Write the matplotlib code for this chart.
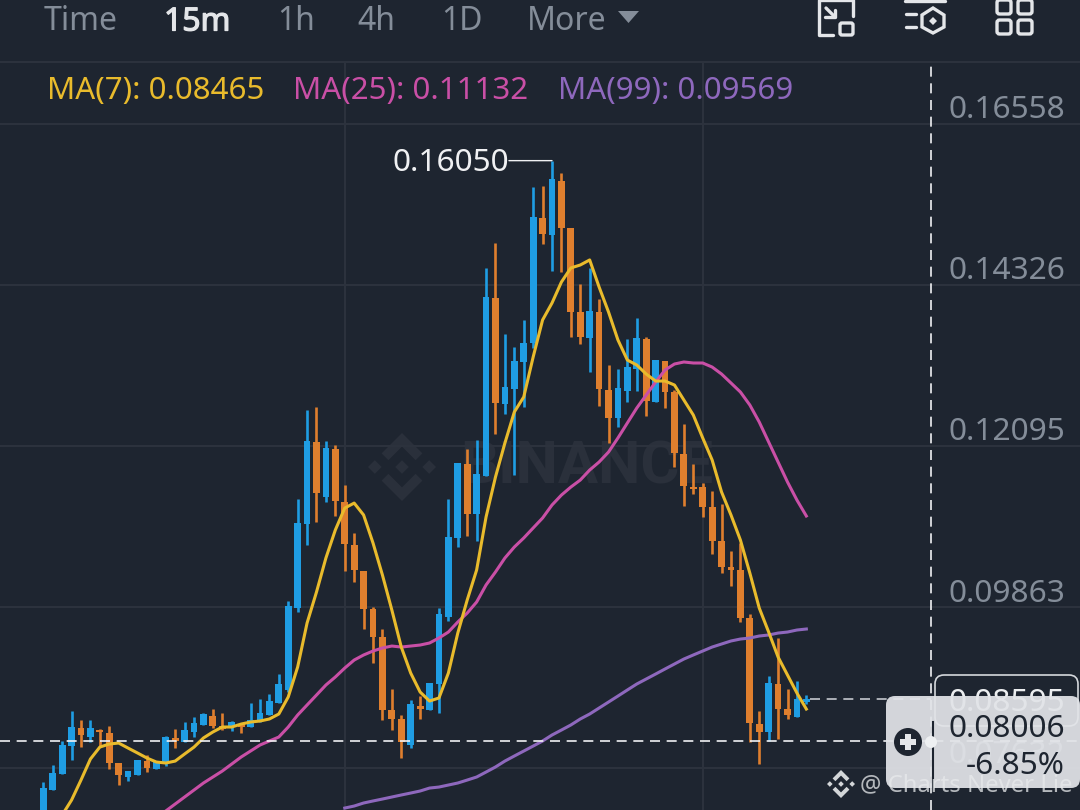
import numpy as np
import matplotlib
matplotlib.use('Agg')
import matplotlib.pyplot as plt
import matplotlib.patheffects as pe
from matplotlib.patches import FancyBboxPatch, Polygon, Circle, Rectangle

plt.rcParams['font.family'] = ['Noto Sans', 'DejaVu Sans']

# candle values, in 1e-5 of the price
opens = [6844, 7329, 7550, 7938, 8188, 8063, 8160, 8119, 7703, 7509,
         7536, 7730, 7620, 7717, 8050, 7994, 8133, 8230, 8354, 8216,
         8202, 8243, 8202, 8271, 8368, 8534, 8715, 9851, 11015, 12151,
         11389, 12054, 11320, 10724, 10364, 9837, 9449, 8437, 8313, 7952,
         8493, 8437, 8798, 9726, 10821, 11846, 11154, 11680, 14147, 12678,
         12885, 13260, 13523, 15256, 15020, 15768, 15117, 13953, 13592, 13953,
         12872, 12484, 12858, 13163, 13578, 12705, 13273, 12844, 11985, 11527,
         11527, 11250, 10779, 10419, 10378, 9713, 8243, 8133, 8798, 8451,
         8340, 8548]
highs = [7439, 7675, 8008, 8423, 8299, 8299, 8174, 8216, 7703, 7592,
         7744, 7814, 7717, 8077, 8174, 8271, 8340, 8396, 8451, 8396,
         8285, 8243, 8534, 8590, 8659, 8936, 9948, 11361, 12594, 12636,
         12165, 12110, 11555, 10890, 10364, 9865, 9560, 8728, 8368, 8576,
         8631, 8812, 9851, 11361, 11860, 12054, 12179, 14563, 14909, 13648,
         13467, 13842, 15685, 15699, 16050, 15879, 15117, 14341, 14563, 14133,
         13218, 13163, 13578, 13870, 13606, 13287, 13273, 12872, 12400, 11846,
         11583, 11472, 11292, 10640, 10752, 9768, 8423, 8909, 9435, 8728,
         8839, 8645]
lows = [6800, 7329, 7550, 7744, 7924, 7994, 7924, 7620, 7398, 7453,
        7536, 7578, 7620, 7661, 7910, 7994, 8063, 8230, 8188, 8160,
        8146, 8119, 8202, 8271, 8368, 8534, 8687, 9796, 10723, 11042,
        11320, 11126, 10364, 10211, 9560, 9089, 8299, 8160, 7772, 7910,
        8313, 8437, 8396, 9671, 10696, 10849, 10779, 11680, 12262, 12539,
        11694, 12636, 13454, 14895, 14521, 14507, 13606, 13509, 13121, 12650,
        12137, 12359, 12705, 12858, 12511, 12705, 12622, 11805, 11264, 11430,
        11112, 10599, 10336, 10156, 9657, 7994, 7689, 8008, 8036, 8313,
        8340, 8521]
closes = [7356, 7564, 7952, 8202, 8091, 8188, 8133, 7703, 7536, 7592,
          7744, 7633, 7717, 8063, 8008, 8160, 8257, 8382, 8216, 8174,
          8271, 8202, 8299, 8396, 8562, 8798, 9879, 11028, 12165, 11444,
          12068, 11333, 10737, 10378, 9837, 9449, 8437, 8313, 7994, 8521,
          8451, 8812, 9768, 10835, 11860, 11154, 11708, 14161, 12691, 12913,
          13273, 13523, 15269, 15034, 15796, 15117, 13953, 13606, 13967, 12885,
          12484, 12899, 13190, 13592, 12719, 13287, 12844, 11999, 11541, 11500,
          11250, 10779, 10419, 10378, 9713, 8257, 8133, 8812, 8451, 8368,
          8590, 8595]

# moving averages, they start later than the candles
ma7 = [6982, 7190, 7467, 7758, 7924, 7966, 7980, 7910, 7842, 7772,
       7717, 7703, 7730, 7828, 7924, 8050, 8133, 8202, 8202, 8243,
       8271, 8285, 8313, 8382, 8618, 9033, 9643, 10072, 10544, 10932,
       11236, 11305, 11140, 10752, 10308, 9823, 9310, 8950, 8687, 8562,
       8604, 8950, 9504, 9962, 10378, 11112, 11666, 12137, 12567, 12775,
       13329, 13842, 14077, 14368, 14563, 14604, 14674, 14299, 13953, 13565,
       13287, 13218, 13093, 12996, 12996, 12941, 12733, 12525, 12207, 11902,
       11458, 11140, 10793, 10336, 9851, 9518, 9172, 8922, 8673, 8451]
ma25 = [7038, 7135, 7232, 7329, 7426, 7509, 7592, 7689, 7786, 7869,
        7952, 8008, 8063, 8202, 8368, 8507, 8645, 8784, 8895, 9019,
        9130, 9200, 9255, 9297, 9324, 9310, 9324, 9338, 9366, 9435,
        9518, 9657, 9781, 9934, 10170, 10350, 10544, 10696, 10821, 10960,
        11098, 11278, 11416, 11527, 11624, 11763, 11874, 12012, 12207, 12415,
        12622, 12802, 12982, 13149, 13232, 13260, 13246, 13246, 13190, 13093,
        12969, 12844, 12664, 12428, 12151, 11874, 11597, 11347, 11126]
ma99 = [7079, 7107, 7149, 7177, 7204, 7232, 7260, 7287, 7315, 7356,
        7370, 7398, 7426, 7467, 7509, 7578, 7648, 7730, 7800, 7869,
        7938, 8008, 8091, 8160, 8230, 8313, 8382, 8465, 8548, 8631,
        8715, 8798, 8867, 8936, 9006, 9075, 9144, 9200, 9255, 9310,
        9352, 9394, 9421, 9435, 9463, 9477, 9504, 9518, 9546, 9560]

price_ticks = [0.16558, 0.14326, 0.12095, 0.09863, 0.07632]
tab_names = ['Time', '15m', '1h', '4h', '1D', 'More']
ma_labels = ['MA(7): 0.08465', 'MA(25): 0.11132', 'MA(99): 0.09569']
peak_price = 0.16050
last_price = 0.08595
cross_price = 0.08006

BG = '#1e2530'
GRID = '#2c323d'
UP = '#1f9de3'
DOWN = '#df7f2e'
YEL = '#e9bb2c'
PINK = '#c94fa6'
PURP = '#8e68bd'
LIGHT = '#e4e6e9'
GRAY = '#848d99'
FS = 22.8


def logo(ax, cx, cy, s, color, tr, alpha=1.0, zorder=5):
    # five piece diamond, s is half the width
    d = s * 0.2
    for dx, dy in [(0, 0), (-s + d, 0), (s - d, 0)]:
        ax.add_patch(Polygon([(cx + dx - d, cy + dy), (cx + dx, cy + dy - d),
                              (cx + dx + d, cy + dy), (cx + dx, cy + dy + d)],
                             color=color, alpha=alpha, lw=0, zorder=zorder, transform=tr))
    for sign in (-1, 1):
        ax.add_patch(Polygon([(cx, cy + sign * s), (cx - 0.6 * s, cy + sign * 0.4 * s),
                              (cx - 0.4 * s, cy + sign * 0.2 * s), (cx, cy + sign * 0.6 * s),
                              (cx + 0.4 * s, cy + sign * 0.2 * s), (cx + 0.6 * s, cy + sign * 0.4 * s)],
                             color=color, alpha=alpha, lw=0, zorder=zorder, transform=tr))


fig = plt.figure(figsize=(10.8, 8.1), dpi=100, facecolor=BG)
ax = fig.add_axes([0, 0, 1, 1], facecolor=BG)
ax.set_xlim(-4.597, 110.05)
ax.set_ylim(0.07052, 0.18276)
for sp in ax.spines.values():
    sp.set_visible(False)
ax.tick_params(length=0, labelbottom=False, labelleft=False)
ax.set_xticks([32, 70])
ax.set_yticks(price_ticks)
ax.grid(True, color=GRID, lw=1.5, zorder=0)
ax.set_axisbelow(True)

# chrome layer, in pixels
ui = fig.add_axes([0, 0, 1, 1])
ui.set_xlim(0, 1080)
ui.set_ylim(810, 0)
ui.axis('off')

ax.text(587, 467, 'BINANCE', transform=ui.transData, color='#2a303b', fontsize=43, family='Roboto',
        fontweight='bold', ha='center', va='center', zorder=0.5)
logo(ax, 402, 467, 34, '#2a303b', ui.transData, zorder=0.5)

o = np.array(opens) / 1e5
h = np.array(highs) / 1e5
l = np.array(lows) / 1e5
c = np.array(closes) / 1e5
x = np.arange(len(o))
cols = [UP if a >= b else DOWN for a, b in zip(c, o)]
ax.vlines(x, l, h, colors=cols, lw=1.9, zorder=2)
ax.bar(x, np.maximum(np.abs(c - o), 0.00025), bottom=np.minimum(o, c), width=0.72, color=cols, zorder=2)

for vals, col in [(ma99, PURP), (ma25, PINK), (ma7, YEL)]:
    ax.plot(x[len(x) - len(vals):], np.array(vals) / 1e5, color=col, lw=2.2, zorder=3)

ax.annotate(f'{peak_price:.5f}', xy=(54, peak_price), xytext=(-31, -1.5), textcoords='offset points',
            color='#f0f1f3', fontsize=FS, ha='right', va='center', zorder=4)
ax.annotate('', xy=(54, peak_price), xytext=(-31, 0), textcoords='offset points',
            arrowprops=dict(arrowstyle='-', color='#f0f1f3', lw=1, shrinkA=0, shrinkB=0), zorder=4)

for p in price_ticks:
    ax.annotate(f'{p:.5f}', xy=(1, p), xycoords=('axes fraction', 'data'), xytext=(-10.5, -1),
                textcoords='offset points', color=GRAY, fontsize=FS, ha='right', va='bottom', zorder=2)

# crosshair and last price
ax.axhline(cross_price, color='#f0f1f3', lw=1.2, dashes=(6, 4), zorder=4)
ax.plot([81.4, 94.2], [last_price, last_price], color='#c4c8ce', lw=1.2, dashes=(6, 4), zorder=4)
ax.axvline(94.24, color='#f0f1f3', lw=1.2, dashes=(6, 4), zorder=4)

# header
ui.add_patch(Rectangle((0, 0), 1080, 61, color=BG, lw=0, zorder=1))
ui.plot([0, 1080], [62, 62], color=GRID, lw=1.5, zorder=1)
for name, tx, tcol in zip(tab_names, [44, 164, 277, 357, 441, 527],
                          [GRAY, LIGHT, GRAY, GRAY, GRAY, GRAY]):
    t = ui.text(tx, 22, name, color=tcol, fontsize=23, va='center', ha='left', zorder=2)
    if name == '15m':
        t.set_path_effects([pe.withStroke(linewidth=0.9, foreground=LIGHT)])
ui.add_patch(Polygon([(618, 11), (639, 11), (628.5, 23)], color=GRAY, lw=0, zorder=2))

for lab, tx, col in zip(ma_labels, [47, 293, 558], [YEL, PINK, PURP]):
    ui.text(tx, 91, lab, color=col, fontsize=22.5, va='center', ha='left', zorder=2)

# icons
ic = dict(color=LIGHT, lw=2.4, zorder=2, solid_capstyle='round')
ui.plot([833, 818.5, 818.5, 853, 853], [35, 35, 0, 0, 16], **ic)
ui.plot([826, 835], [8, 17], **ic)
ui.plot([825, 835, 835], [17, 17, 10], **ic)
ui.add_patch(FancyBboxPatch((840, 23), 13, 12, boxstyle='round,pad=0,rounding_size=2', fc='none', ec=LIGHT, lw=2.4, zorder=2))
ui.plot([905, 945], [1, 1], **ic)
ui.plot([906, 916], [14, 14], **ic)
ui.plot([906, 916], [27, 27], **ic)
ui.add_patch(Polygon([(933, 8), (944, 15), (944, 27), (933, 33), (922, 27), (922, 15)], closed=True,
                     fc='none', ec=LIGHT, lw=2.4, zorder=2))
ui.add_patch(Polygon([(933, 17), (937, 21), (933, 25), (929, 21)], color=LIGHT, lw=0, zorder=2))
for bx in (997, 1018):
    for by in (0, 20):
        ui.add_patch(FancyBboxPatch((bx, by), 14, 14, boxstyle='round,pad=0,rounding_size=2.5',
                                    fc='none', ec=LIGHT, lw=2.4, zorder=2))

# price box and crosshair widget
ui.text(1065, 703, f'{last_price:.5f}', color='#eceef0', fontsize=FS, ha='right', va='center', zorder=3)
ui.add_patch(FancyBboxPatch((935, 675), 143, 51, boxstyle='round,pad=0,rounding_size=9',
                            fc='none', ec='#d5d8dc', lw=1.2, zorder=3))
ui.add_patch(FancyBboxPatch((886, 696), 194, 92, boxstyle='round,pad=0,rounding_size=9',
                            fc='#e2e4e8', ec='none', alpha=0.93, zorder=4))
ui.plot([933, 933], [722, 788], color='#1e2530', lw=1.5, zorder=5)
ui.add_patch(Circle((908, 742), 14, color=BG, lw=0, zorder=5))
ui.add_patch(Rectangle((900, 739), 16, 6, color=LIGHT, lw=0, zorder=6))
ui.add_patch(Rectangle((905, 734), 6, 16, color=LIGHT, lw=0, zorder=6))
ui.add_patch(Circle((931, 742), 6, color='#eef0f2', lw=0, zorder=5))
ui.text(1065, 729, f'{cross_price:.5f}', color=BG, fontsize=FS, ha='right', va='center', zorder=6)
ui.text(1065, 766, '-6.85%', color=BG, fontsize=FS, ha='right', va='center', zorder=6)

# watermark over the widget
logo(ui, 841, 784, 14, '#e8eaec', ui.transData, alpha=0.9, zorder=7)
ui.text(860, 785, '@ Charts Never Lie', color='#e8eaec', alpha=0.75, fontsize=17.2, ha='left', va='center', zorder=7)

fig.savefig('out.png', dpi=100, facecolor=BG)
